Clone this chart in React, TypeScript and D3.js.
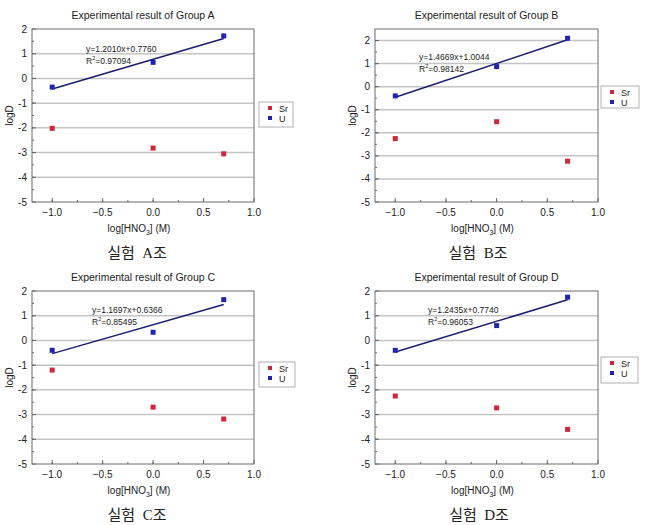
import React from "react";
import * as d3 from "d3";

const groups = ["A", "B", "C", "D"];
const xValues = [-1.0, 0.0, 0.7];
const srA = [-2.02, -2.82, -3.05];
const uA = [-0.35, 0.65, 1.72];
const srB = [-2.25, -1.52, -3.23];
const uB = [-0.4, 0.87, 2.1];
const srC = [-1.2, -2.7, -3.18];
const uC = [-0.4, 0.33, 1.65];
const srD = [-2.25, -2.73, -3.6];
const uD = [-0.4, 0.6, 1.75];
const slopes = [1.201, 1.4669, 1.1697, 1.2435];
const intercepts = [0.776, 1.0044, 0.6366, 0.774];
const eqLabels = ["y=1.2010x+0.7760", "y=1.4669x+1.0044", "y=1.1697x+0.6366", "y=1.2435x+0.7740"];
const r2Labels = ["=0.97094", "=0.98142", "=0.85495", "=0.96053"];
const yMaxes = [2, 2.5, 2, 2];
const xTicks = [-1.0, -0.5, 0.0, 0.5, 1.0];
const yTicks = [-5, -4, -3, -2, -1, 0, 1, 2];
const captions = ["실험\u00a0\u00a0A조", "실험\u00a0\u00a0B조", "실험\u00a0\u00a0C조", "실험\u00a0\u00a0D조"];
const legendNames = ["Sr", "U"];

const srAll = [srA, srB, srC, srD];
const uAll = [uA, uB, uC, uD];

const frames = [
  { l: 32, r: 254, t: 29, b: 202, leg: [259, 102, 34, 25], eq: [86, 52], cap: [137, 258] },
  { l: 375, r: 598, t: 29, b: 202, leg: [601, 86, 38, 22], eq: [419, 60], cap: [478, 258] },
  { l: 32, r: 254, t: 291, b: 464, leg: [259, 362, 36, 25], eq: [92, 313], cap: [137, 520] },
  { l: 375, r: 598, t: 291, b: 464, leg: [601, 357, 37, 26], eq: [428, 313], cap: [479, 520] },
];

const RED = "#d0263a";
const BLUE = "#1f24b0";
const FONT = "Liberation Sans, Arial, sans-serif";

function Panel({ i }: { i: number }) {
  const f = frames[i];
  const x = d3.scaleLinear().domain([-1.2, 1.0]).range([f.l, f.r]);
  const y = d3.scaleLinear().domain([-5, yMaxes[i]]).range([f.b, f.t]);
  const minorX = d3.range(-1.25, 1.001, 0.25).filter((v) => v > -1.2 && v < 1.0);
  const minorY = d3.range(-5, yMaxes[i] + 0.001, 0.5).filter((v) => v > -5 && v < yMaxes[i]);
  const fitLine = d3
    .line<number>()
    .x((v) => x(v))
    .y((v) => y(slopes[i] * v + intercepts[i]));
  const cx = (f.l + f.r) / 2;
  const cy = (f.t + f.b) / 2;
  const [lx, ly, lw, lh] = f.leg;
  return (
    <g fontFamily={FONT}>
      <text x={cx} y={f.t - 10} textAnchor="middle" fontSize={10.5} fill="#222">
        Experimental result of Group {groups[i]}
      </text>
      {yTicks
        .filter((v) => v > -5 && v < yMaxes[i])
        .map((v) => (
          <line key={"g" + v} x1={f.l} x2={f.r} y1={y(v)} y2={y(v)} stroke="#c4c4c4" strokeWidth={1.5} />
        ))}
      {minorY.map((v) => (
        <line key={"my" + v} x1={f.l} x2={f.l + 2} y1={y(v)} y2={y(v)} stroke="#666" />
      ))}
      {yTicks.map((v) => (
        <line key={"ty" + v} x1={f.l} x2={f.l + 4} y1={y(v)} y2={y(v)} stroke="#666" />
      ))}
      {minorX.map((v) => (
        <line key={"mx" + v} x1={x(v)} x2={x(v)} y1={f.b} y2={f.b - 2} stroke="#666" />
      ))}
      {xTicks.map((v) => (
        <line key={"tx" + v} x1={x(v)} x2={x(v)} y1={f.b} y2={f.b - 4} stroke="#666" />
      ))}
      <rect x={f.l} y={f.t} width={f.r - f.l} height={f.b - f.t} fill="none" stroke="#6a6a6a" strokeWidth={1} />
      {yTicks.map((v) => (
        <text key={"yl" + v} x={f.l - 5} y={y(v) + 3.5} textAnchor="end" fontSize={10} fill="#222">
          {v}
        </text>
      ))}
      {xTicks.map((v) => (
        <text key={"xl" + v} x={x(v)} y={f.b + 14} textAnchor="middle" fontSize={10} fill="#222">
          {d3.format(".1f")(v)}
        </text>
      ))}
      <text x={cx - 4} y={f.b + 30} textAnchor="middle" fontSize={10} fill="#222">
        log[HNO<tspan fontSize={7} dy={3}>3</tspan>
        <tspan dy={-3}>] (M)</tspan>
      </text>
      <text
        transform={`translate(${f.l - 19},${cy}) rotate(-90)`}
        textAnchor="middle"
        fontSize={10}
        fill="#222"
      >
        logD
      </text>
      <path d={fitLine([xValues[0], xValues[2]]) || ""} stroke="#1c1c70" strokeWidth={1.5} fill="none" />
      {xValues.map((xv, k) => (
        <rect key={"s" + k} x={x(xv) - 2.5} y={y(srAll[i][k]) - 2.5} width={5} height={5} fill={RED} />
      ))}
      {xValues.map((xv, k) => (
        <rect key={"u" + k} x={x(xv) - 2.5} y={y(uAll[i][k]) - 2.5} width={5} height={5} fill={BLUE} />
      ))}
      <text x={f.eq[0]} y={f.eq[1]} fontSize={8.5} fill="#222">
        {eqLabels[i]}
      </text>
      <text x={f.eq[0]} y={f.eq[1] + 12} fontSize={8.5} fill="#222">
        R<tspan fontSize={5.5} dy={-4}>2</tspan>
        <tspan dy={4}>{r2Labels[i]}</tspan>
      </text>
      <rect x={lx} y={ly} width={lw} height={lh} fill="#fff" stroke="#b0b0b0" />
      {legendNames.map((n, k) => (
        <g key={n}>
          <rect x={lx + 9} y={ly + 6 + k * 10 - 2} width={4} height={4} fill={k === 0 ? RED : BLUE} />
          <text x={lx + 20} y={ly + 6 + k * 10 + 3.5} fontSize={9} fill="#222">
            {n}
          </text>
        </g>
      ))}
      <text
        x={f.cap[0]}
        y={f.cap[1]}
        textAnchor="middle"
        fontSize={15}
        fill="#222"
        fontFamily="Liberation Serif, Noto Sans CJK KR, serif"
      >
        {captions[i]}
      </text>
    </g>
  );
}

export default function App() {
  return (
    <svg
      width={649}
      height={525}
      style={{ position: "absolute", left: 0, top: 0, background: "#fff" }}
    >
      <rect width={649} height={525} fill="#fff" />
      {groups.map((_, i) => (
        <Panel key={i} i={i} />
      ))}
    </svg>
  );
}
